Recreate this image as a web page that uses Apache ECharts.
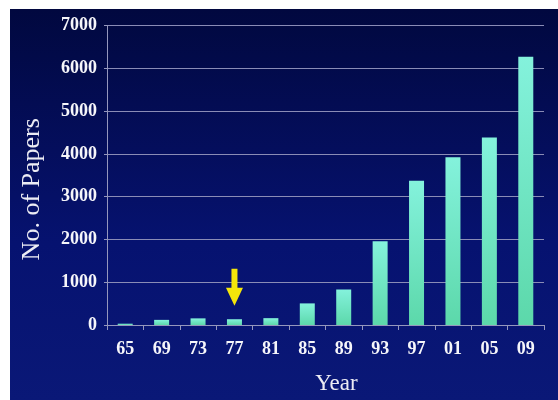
<!DOCTYPE html>
<html>
<head>
<meta charset="utf-8">
<script src="https://cdn.jsdelivr.net/npm/echarts@6/dist/echarts.min.js"></script>
<style>
  html, body { margin: 0; padding: 0; background: #ffffff; width: 558px; height: 400px; overflow: hidden; }
  #panel { position: absolute; left: 10px; top: 9px; width: 548px; height: 391px;
           background: linear-gradient(to bottom, #01083f 0%, #061270 60%, #0a1877 100%); }
  #chart { position: absolute; left: 0; top: 0; width: 558px; height: 400px; }
</style>
</head>
<body>
<div id="panel"></div>
<div id="chart"></div>
<script>
const years = ['65', '69', '73', '77', '81', '85', '89', '93', '97', '01', '05', '09'];
const papers = [30, 120, 155, 135, 160, 505, 830, 1960, 3370, 3920, 4380, 6270];
const yTicks = [0, 1000, 2000, 3000, 4000, 5000, 6000, 7000];
const highlightYear = '77';

const chart = echarts.init(document.getElementById('chart'), null, { renderer: 'canvas' });
const serif = '"Liberation Serif", "DejaVu Serif", serif';
const axisGray = '#9597bd';

chart.setOption({
  backgroundColor: 'transparent',
  animation: false,
  grid: { left: 107, right: 14, top: 25.5, bottom: 74, containLabel: false },
  xAxis: {
    type: 'category',
    data: years,
    name: 'Year',
    nameLocation: 'middle',
    nameGap: 47,
    nameTextStyle: { color: '#ececf4', fontFamily: serif, fontSize: 23, padding: [0, 0, 0, 22] },
    axisLine: { show: true, lineStyle: { color: axisGray, width: 1 } },
    axisTick: { show: true, length: 5, lineStyle: { color: axisGray } },
    axisLabel: { color: '#f6f6fa', fontFamily: serif, fontSize: 18, fontWeight: 'bold', margin: 15 }
  },
  yAxis: {
    type: 'value',
    min: yTicks[0],
    max: yTicks[yTicks.length - 1],
    interval: 1000,
    name: 'No. of Papers',
    nameLocation: 'middle',
    nameGap: 62,
    nameRotate: 90,
    nameTextStyle: { color: '#ececf4', fontFamily: serif, fontSize: 26, padding: [0, 28, 0, 0] },
    axisLine: { show: true, lineStyle: { color: axisGray, width: 1 } },
    axisTick: { show: true, length: 3, lineStyle: { color: axisGray } },
    splitLine: { show: true, lineStyle: { color: '#8a8cb6', width: 1 } },
    axisLabel: { color: '#f6f6fa', fontFamily: serif, fontSize: 18, fontWeight: 'bold', margin: 10,
                 formatter: function (v) { return String(v); } }
  },
  series: [{
    type: 'bar',
    data: papers,
    barWidth: 15,
    itemStyle: {
      color: new echarts.graphic.LinearGradient(0, 0, 0, 1, [
        { offset: 0, color: '#84f2dc' },
        { offset: 1, color: '#5cd8aa' }
      ])
    },
    markPoint: {
      silent: true,
      symbol: 'path://M5.5,0 L11.5,0 L11.5,19 L17,19 L8.5,37 L0,19 L5.5,19 Z',
      symbolSize: [17, 37],
      symbolOffset: [0, -32],
      itemStyle: { color: '#f4e60a' },
      label: { show: false },
      data: [{ coord: [highlightYear, papers[years.indexOf(highlightYear)]] }]
    }
  }]
});
</script>
</body>
</html>
